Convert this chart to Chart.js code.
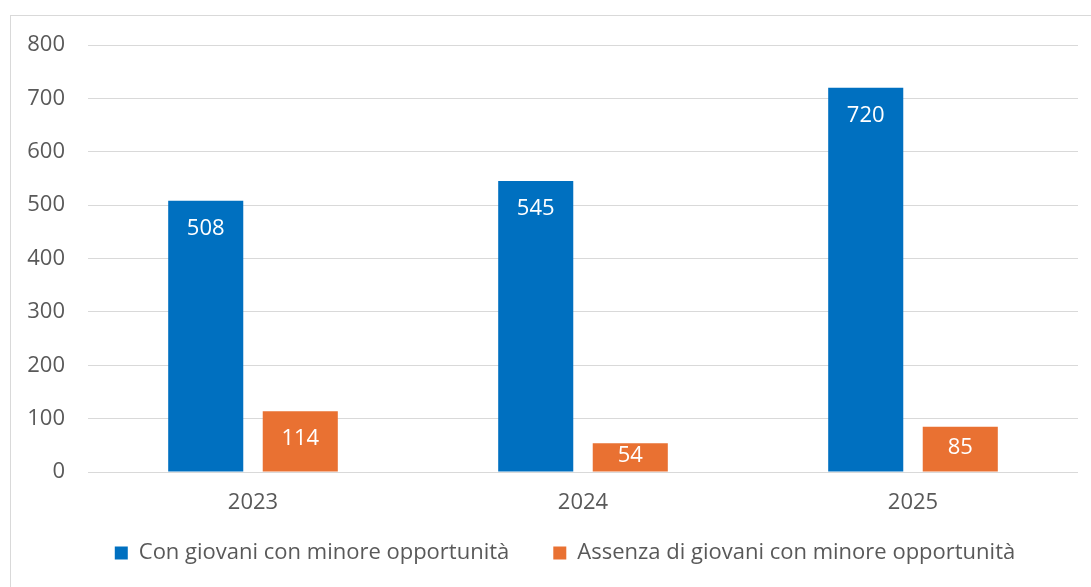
<!DOCTYPE html>
<html>
<head>
<meta charset="utf-8">
<script src="https://cdn.jsdelivr.net/npm/chart.js@4/dist/chart.umd.min.js"></script>
<style>
  html, body { margin: 0; padding: 0; background: #fff; overflow: hidden; }
  #frame { position: absolute; left: 10px; top: 15px; width: 1100px; height: 600px;
           border-left: 1px solid #d9d9d9; border-top: 1px solid #d9d9d9; }
  #wrap { position: absolute; left: 0; top: 0; width: 1091px; height: 587px; }
</style>
</head>
<body>
<div id="frame"></div>
<div id="wrap"><canvas id="c" width="1091" height="587"></canvas></div>
<script>
const categories = ["2023", "2024", "2025"];
const seriesNames = ["Con giovani con minore opportunità", "Assenza di giovani con minore opportunità"];
const withYouth = [508, 545, 720];
const withoutYouth = [114, 54, 85];
const yTicks = [0, 100, 200, 300, 400, 500, 600, 700, 800];

const FONT = "'Open Sans', sans-serif";
const TEXT = "#595959";
const FS = 22;

const labelPlugin = {
  id: "barLabels",
  afterDatasetsDraw(chart) {
    const ctx = chart.ctx;
    ctx.save();
    ctx.fillStyle = "#ffffff";
    ctx.font = FS + "px " + FONT;
    ctx.textAlign = "center";
    ctx.textBaseline = "middle";
    chart.data.datasets.forEach((ds, di) => {
      const meta = chart.getDatasetMeta(di);
      meta.data.forEach((bar, i) => {
        const top = bar.y, base = bar.base;
        const mid = (top + base) / 2 - 1.5;
        const y = Math.min(top + 28, mid);
        ctx.fillText(String(ds.data[i]), bar.x, y);
      });
    });
    ctx.restore();
  }
};

const legendPlace = {
  id: "legendPlace",
  afterLayout(chart) {
    const lg = chart.legend;
    if (!lg) return;
    lg.left = 52; lg.right = 1078;
    lg.top = 498; lg.bottom = 574;
  }
};

new Chart(document.getElementById("c"), {
  type: "bar",
  data: {
    labels: categories,
    datasets: [
      { label: seriesNames[0], data: withYouth, backgroundColor: "#0070C0",
        categoryPercentage: 0.573, barPercentage: 0.794 },
      { label: seriesNames[1], data: withoutYouth, backgroundColor: "#E97132",
        categoryPercentage: 0.573, barPercentage: 0.794 }
    ]
  },
  options: {
    responsive: false,
    animation: false,
    devicePixelRatio: 1,
    layout: { padding: { left: 0, right: 13, top: 45, bottom: -6 } },
    scales: {
      x: {
        afterFit(s) { s.height = 45; },
        grid: { display: false, drawTicks: false },
        border: { display: false },
        ticks: { color: TEXT, font: { family: FONT, size: FS }, padding: 18 }
      },
      y: {
        min: 0, max: 800,
        afterBuildTicks(s) { s.ticks = yTicks.map(v => ({ value: v })); },
        afterFit(s) { s.width = 88; },
        grid: { color: "#d9d9d9", lineWidth: 1, drawTicks: false },
        border: { display: false },
        ticks: { color: TEXT, font: { family: FONT, size: FS }, padding: 23 }
      }
    },
    plugins: {
      legend: {
        position: "bottom",
        labels: { color: TEXT, font: { family: FONT, size: FS }, boxWidth: 13, boxHeight: 13, padding: 44 }
      },
      tooltip: { enabled: false }
    }
  },
  plugins: [labelPlugin, legendPlace]
});
</script>
</body>
</html>
